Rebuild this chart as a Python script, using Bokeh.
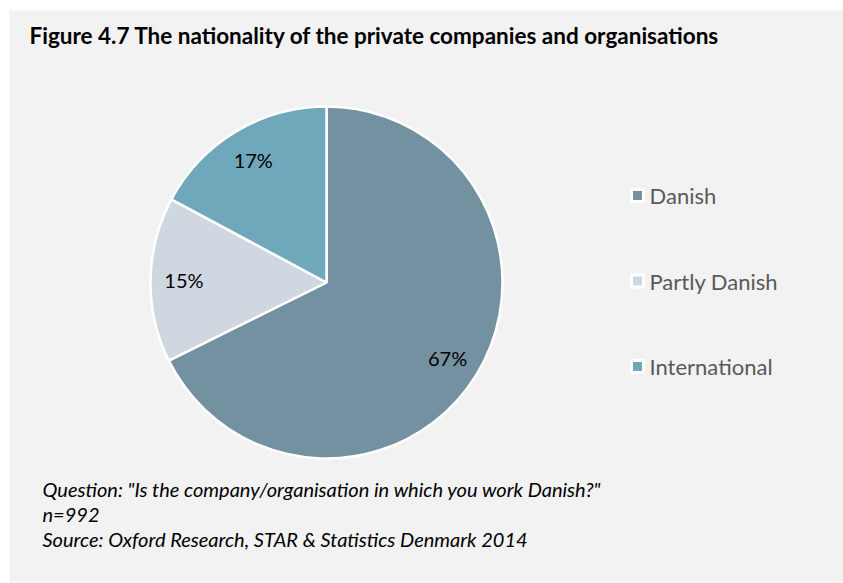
import math
from bokeh.plotting import figure
from bokeh.models import Range1d, ColumnDataSource
from bokeh.core.properties import value
from bokeh.embed import file_html
from bokeh.resources import INLINE

# ---- data ----
categories = ["Danish", "Partly Danish", "International"]
shares = [67, 15, 17]
labels = ["67%", "15%", "17%"]
colors = ["#7491a2", "#cfd8e0", "#6fa8bb"]

title = "Figure 4.7 The nationality of the private companies and organisations"
notes = [
    "Question: \"Is the company/organisation in which you work Danish?\"",
    "n=992",
    "Source: Oxford Research, STAR & Statistics Denmark 2014",
]

W, H = 843, 583
FONT = "Lato"

p = figure(width=W, height=H, output_backend="svg", toolbar_location=None,
           x_range=Range1d(0, W), y_range=Range1d(0, H),
           min_border=0, outline_line_color=None,
           background_fill_color="white", border_fill_color="white")
p.axis.visible = False
p.grid.visible = False

def Y(py):
    return H - py

# panel background
p.quad(left=9, right=W, top=Y(10), bottom=Y(582), fill_color="#f2f2f2",
       line_color=None)

# ---- pie ----
cx, cy, R = 326, Y(282), 176
total = float(sum(shares))
starts, ends, mids = [], [], []
cum = 0.0
for s in shares:
    a0 = math.pi / 2 - 2 * math.pi * cum / total
    cum += s
    a1 = math.pi / 2 - 2 * math.pi * cum / total
    starts.append(a0)
    ends.append(a1)
    mids.append((a0 + a1) / 2)

src = ColumnDataSource(dict(start=starts, end=ends, color=colors, cat=categories))
p.wedge(x=cx, y=cy, radius=R, start_angle="start", end_angle="end",
        direction="clock", fill_color="color", line_color="white",
        line_width=2.5, source=src)

lr = 0.81 * R
lsrc = ColumnDataSource(dict(
    x=[cx + lr * math.cos(m) for m in mids],
    y=[cy + lr * math.sin(m) for m in mids],
    t=labels))
p.text(x="x", y="y", text="t", source=lsrc, text_align="center",
       text_baseline="middle", text_font=value(FONT), text_font_size="20px",
       text_color="#000000")

# ---- legend ----
ly0, lstep = Y(195), 85.5
leg = ColumnDataSource(dict(
    x=[637] * len(categories),
    tx=[649] * len(categories),
    y=[ly0 - i * lstep for i in range(len(categories))],
    c=colors, t=categories))
p.scatter(x="x", y="y", marker="square", size=12, fill_color="c",
          line_color="white", line_width=3, source=leg)
p.text(x="tx", y="y", text="t", source=leg, text_align="left",
       text_baseline="middle", text_font=value(FONT), text_font_size="22px",
       text_color="#595959")

# ---- title ----
p.text(x=[29], y=[Y(35)], text=[title], text_align="left",
       text_baseline="middle", text_font=value(FONT), text_font_size="22.5px",
       text_font_style="bold", text_color="#000000")

# ---- notes ----
nsrc = ColumnDataSource(dict(x=[42] * len(notes),
                             y=[Y(488) - i * 25 for i in range(len(notes))],
                             t=notes))
p.text(x="x", y="y", text="t", source=nsrc, text_align="left",
       text_baseline="middle", text_font=value(FONT), text_font_size="20px",
       text_font_style="italic", text_color="#000000")

open("out.html", "w").write(file_html(p, INLINE))
